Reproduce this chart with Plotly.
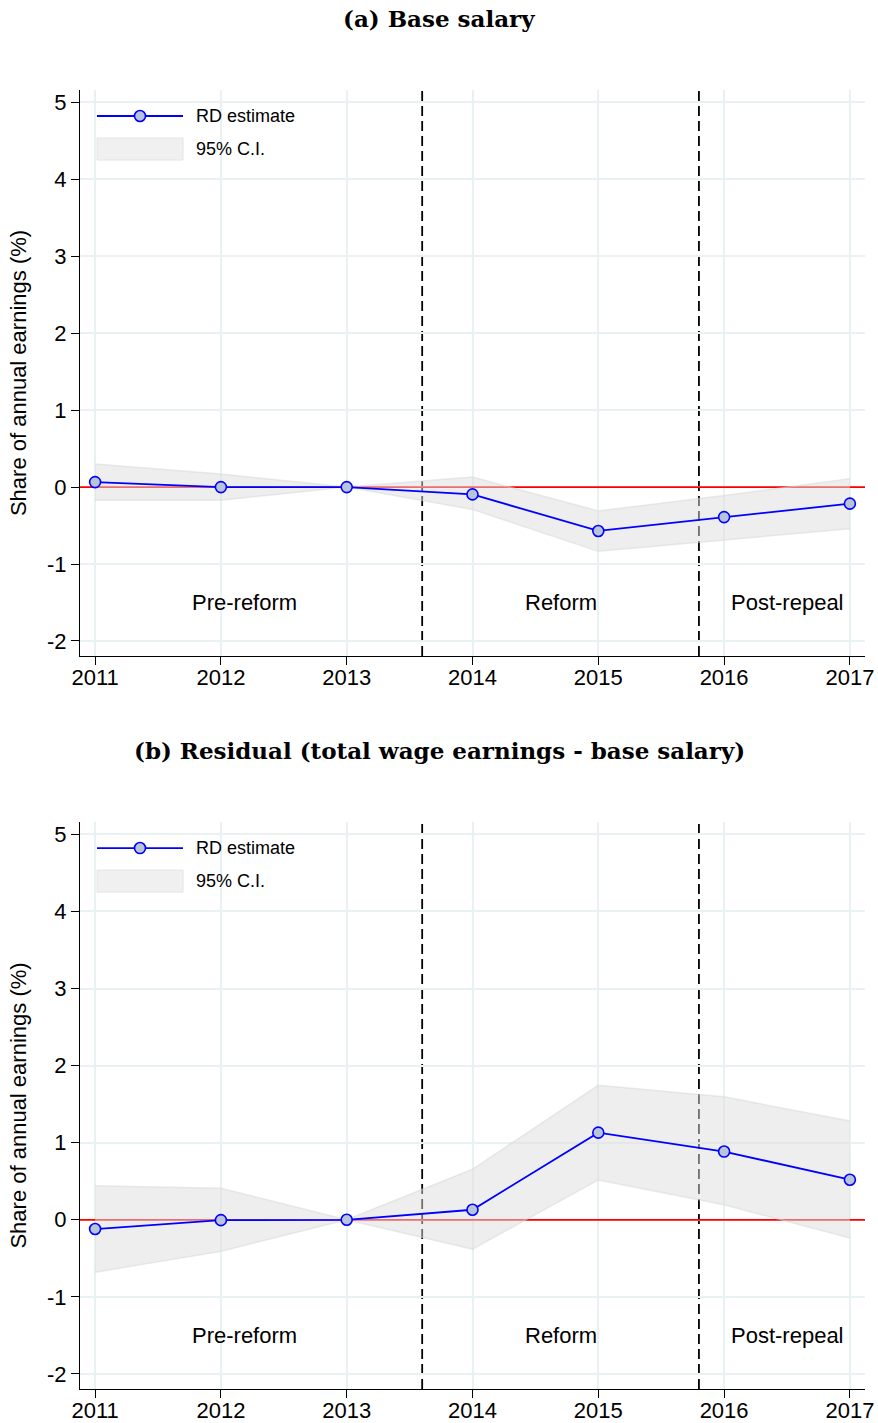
import plotly.graph_objects as go

years = [2011, 2012, 2013, 2014, 2015, 2016, 2017]

# Panel (a) Base salary
a_est = [0.065, 0.0, 0.0, -0.095, -0.57, -0.39, -0.215]
a_hi = [0.30, 0.17, 0.0, 0.13, -0.31, -0.11, 0.11]
a_lo = [-0.17, -0.17, 0.0, -0.29, -0.835, -0.69, -0.54]

# Panel (b) Residual
b_est = [-0.12, -0.005, 0.0, 0.13, 1.13, 0.885, 0.52]
b_hi = [0.44, 0.41, 0.0, 0.655, 1.745, 1.595, 1.28]
b_lo = [-0.68, -0.41, 0.0, -0.38, 0.517, 0.194, -0.237]

titles = ["(a) Base salary", "(b) Residual (total wage earnings - base salary)"]
period_labels = ["Pre-reform", "Reform", "Post-repeal"]
period_x = [2012.19, 2014.7, 2016.5]
period_y = -1.5
cutoffs = [2013.6, 2015.8]
y_ticks = [-2, -1, 0, 1, 2, 3, 4, 5]
y_ticktext = ["-2", "-1", "0", "1", "2", "3", "4", "5"]
ytitle = "Share of annual earnings (%)"
legend_names = ["RD estimate", "95% C.I."]

H = 1423.0
def fy(px):
    return (H - px) / H

domains = [[fy(656), fy(90)], [fy(1389), fy(822)]]
title_px = [19, 750]

fig = go.Figure()
grid = "#eaf1f3"
sans = "Liberation Sans, Arial, sans-serif"

panels = [(a_est, a_hi, a_lo), (b_est, b_hi, b_lo)]
annotations = []
shapes = []
for i, (est, hi, lo) in enumerate(panels):
    xa = "x" if i == 0 else "x2"
    ya = "y" if i == 0 else "y2"
    # zero line
    fig.add_trace(go.Scatter(x=[2010.88, 2017.12], y=[0, 0], mode="lines", line=dict(color="#ff0000", width=1.8),
                             xaxis=xa, yaxis=ya, showlegend=False, hoverinfo="skip"))
    # CI band
    fig.add_trace(go.Scatter(x=years, y=hi, mode="lines", line=dict(color="rgba(215,215,215,0.5)", width=1.5),
                             xaxis=xa, yaxis=ya, showlegend=False, hoverinfo="skip"))
    fig.add_trace(go.Scatter(x=years, y=lo, mode="lines", line=dict(color="rgba(215,215,215,0.5)", width=1.5),
                             fill="tonexty", fillcolor="rgba(222,222,222,0.5)",
                             xaxis=xa, yaxis=ya, showlegend=False, hoverinfo="skip"))
    # estimate
    fig.add_trace(go.Scatter(x=years, y=est, mode="lines+markers", line=dict(color="#0000ff", width=1.8),
                             marker=dict(size=11, color="#b8c4d8", line=dict(color="#0000ff", width=1.6)),
                             xaxis=xa, yaxis=ya, showlegend=False))
    # vertical dashed cutoffs
    for c in cutoffs:
        shapes.append(dict(type="line", xref=xa, yref=f"{ya} domain", x0=c, x1=c, y0=0, y1=1, layer="below",
                           line=dict(color="black", width=1.8, dash="10px,5px")))
    # period labels
    for lab, px_ in zip(period_labels, period_x):
        annotations.append(dict(x=px_, y=period_y, xref=xa, yref=ya, text=lab, showarrow=False,
                                font=dict(family=sans, size=22, color="black")))
    # title
    annotations.append(dict(x=(439 - 80) / 785, xref="paper", y=fy(title_px[i]), yref="paper",
                            text=f"<b>{titles[i]}</b>", showarrow=False, yanchor="middle", xanchor="center",
                            font=dict(family="DejaVu Serif, serif", size=23, color="black")))
    # manual legend
    xd = f"{xa} domain"
    yd = f"{ya} domain"
    shapes.append(dict(type="line", xref=xd, yref=yd, x0=(97 - 80) / 785, x1=(183 - 80) / 785,
                       y0=1 - (116 - 90) / 566, y1=1 - (116 - 90) / 566, line=dict(color="#0000ff", width=1.8)))
    cx = (140 - 80) / 785
    cy = 1 - (116 - 90) / 566
    shapes.append(dict(type="circle", xref=xd, yref=yd, x0=cx - 5.5 / 785, x1=cx + 5.5 / 785,
                       y0=cy - 5.5 / 566, y1=cy + 5.5 / 566, fillcolor="#b8c4d8", line=dict(color="#0000ff", width=1.6)))
    shapes.append(dict(type="rect", xref=xd, yref=yd, x0=(97 - 80) / 785, x1=(183 - 80) / 785,
                       y0=1 - (160 - 90) / 566, y1=1 - (138 - 90) / 566,
                       fillcolor="rgba(240,240,240,1)", line=dict(color="rgba(228,228,228,1)", width=1)))
    annotations.append(dict(x=(194 - 80) / 785, y=1 - (116 - 90) / 566, xref=xd, yref=yd, text=legend_names[0],
                            showarrow=False, xanchor="left", yanchor="middle",
                            font=dict(family=sans, size=18, color="black")))
    annotations.append(dict(x=(194 - 80) / 785, y=1 - (149 - 90) / 566, xref=xd, yref=yd, text=legend_names[1],
                            showarrow=False, xanchor="left", yanchor="middle",
                            font=dict(family=sans, size=18, color="black")))

axis_common = dict(showline=True, linecolor="black", linewidth=1.2, ticks="outside", ticklen=8,
                   tickcolor="black", tickwidth=1.2, showgrid=True, gridcolor=grid, gridwidth=1.5,
                   zeroline=False, tickfont=dict(family=sans, size=22, color="black"), automargin=False)

layout = dict(
    width=878, height=1423,
    margin=dict(l=80, r=13, t=0, b=0),
    plot_bgcolor="white", paper_bgcolor="white",
    showlegend=False,
    shapes=shapes, annotations=annotations,
)
for i in range(2):
    xs = "xaxis" if i == 0 else "xaxis2"
    ys = "yaxis" if i == 0 else "yaxis2"
    layout[xs] = dict(axis_common, range=[2010.88, 2017.12], tickvals=years, anchor="y" if i == 0 else "y2",
                      domain=[0, 1], ticklabelstandoff=-7)
    layout[ys] = dict(axis_common, range=[-2.195, 5.16], tickvals=y_ticks, ticktext=y_ticktext,
                      anchor="x" if i == 0 else "x2", domain=domains[i],
                      title=dict(text=ytitle, font=dict(family=sans, size=22, color="black"), standoff=14))
fig.update_layout(**layout)
html = fig.to_html(include_plotlyjs=True, full_html=True, config={"displayModeBar": False})
html = html.replace("<head>", "<head><style>html,body{margin:0;padding:0;overflow:hidden;}</style>", 1)
with open("out.html", "w", encoding="utf-8") as f:
    f.write(html)
